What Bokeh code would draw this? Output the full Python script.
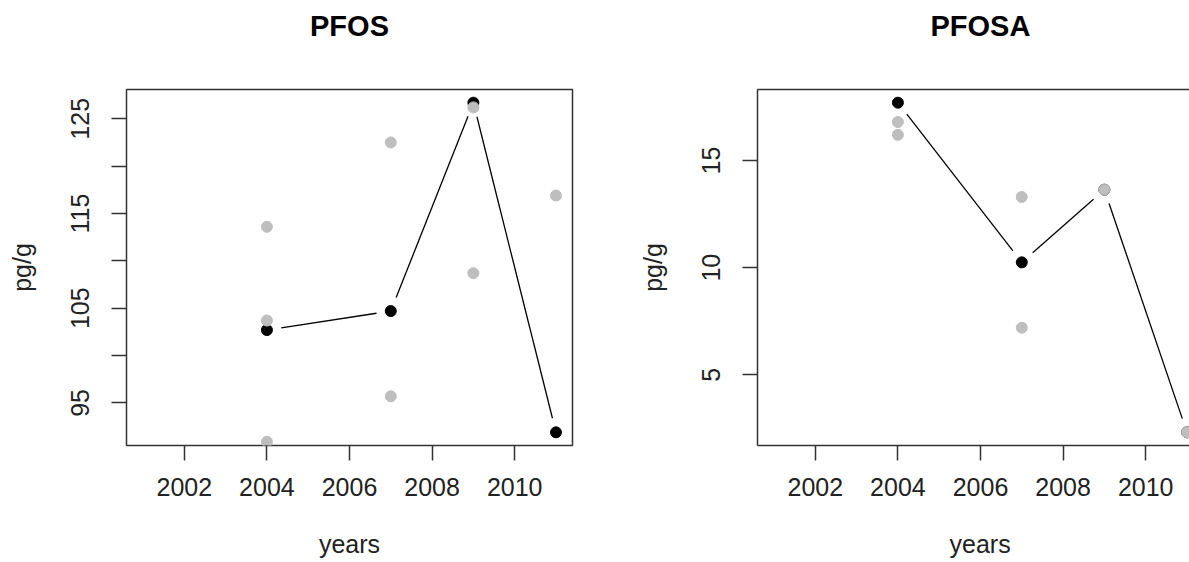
import math

from bokeh.embed import file_html
from bokeh.layouts import row
from bokeh.models import FixedTicker, LinearAxis, Range1d, Title
from bokeh.plotting import figure
from bokeh.resources import INLINE

# Sampling years and the year axis
years = [2004, 2007, 2009, 2011]
year_lim = [2001, 2011]
year_ticks = [2002, 2004, 2006, 2008, 2010]

# PFOS (pg/g): yearly means and individual samples
pfos_mean = [102.7, 104.7, 126.7, 91.9]
pfos_sample_year = [2004, 2004, 2004, 2007, 2007, 2009, 2009, 2011]
pfos_sample = [113.6, 103.7, 90.9, 122.5, 95.7, 126.2, 108.7, 116.9]
pfos_ticks = [95, 100, 105, 110, 115, 120, 125]
pfos_tick_labels = ["95", "", "105", "", "115", "", "125"]

# PFOSA (pg/g): yearly means and individual samples
pfosa_mean = [17.7, 10.25, 13.64, 2.32]
pfosa_sample_year = [2004, 2004, 2007, 2007, 2009, 2011]
pfosa_sample = [16.8, 16.2, 13.3, 7.2, 13.64, 2.32]
pfosa_ticks = [5, 10, 15]
pfosa_tick_labels = ["5", "10", "15"]

FONT = "Liberation Sans"
INK = "#333333"
TEXT = "#222222"
GREY = "#BEBEBE"
FRAME_W, FRAME_H = 446, 356
TOP, BOTTOM = 89, 117
GAP = 14.5  # px left open around each mean point on the connecting line


def padded(lo, hi, frac=0.04):
    d = (hi - lo) * frac
    return lo - d, hi + d


def gapped_segments(xs, ys, xpx, ypx, gap):
    """Connecting segments that stop short of each point (type 'b' style)."""
    x0, y0, x1, y1 = [], [], [], []
    for i in range(len(xs) - 1):
        dx, dy = xs[i + 1] - xs[i], ys[i + 1] - ys[i]
        length = math.hypot(dx * xpx, dy * ypx)
        if length <= 2 * gap:
            continue
        f = gap / length
        x0.append(xs[i] + dx * f)
        y0.append(ys[i] + dy * f)
        x1.append(xs[i + 1] - dx * f)
        y1.append(ys[i + 1] - dy * f)
    return x0, y0, x1, y1


def style_axis(ax):
    ax.major_tick_in = 0
    ax.major_tick_out = 15
    ax.major_tick_line_color = INK
    ax.major_tick_line_width = 1.5
    ax.minor_tick_line_color = None
    ax.major_label_text_font = FONT
    ax.major_label_text_font_size = "25px"
    ax.major_label_text_color = TEXT
    ax.axis_label_text_font = FONT
    ax.axis_label_text_font_size = "25px"
    ax.axis_label_text_font_style = "normal"
    ax.axis_label_text_color = TEXT


def spacer(extent, anchor, line_color=None):
    """Unlabelled axis with one invisible tick: sets the distance to the titles
    and, when given a colour, draws that edge of the box."""
    return LinearAxis(ticker=FixedTicker(ticks=[anchor]),
                      major_label_overrides={anchor: ""},
                      major_label_text_font_size="0px", major_label_standoff=0,
                      major_tick_out=extent, major_tick_in=0,
                      major_tick_line_color=INK, major_tick_line_alpha=0.0,
                      minor_tick_line_color=None, axis_line_color=line_color,
                      axis_line_width=1.5)


def panel(name, means, s_year, s_val, yticks, ylabels, border_left, border_right,
          visible_w, boxed, title_align, title_offset, xlab_offset):
    xlo, xhi = padded(*year_lim)
    ylo, yhi = padded(min(means), max(means))
    xpx = FRAME_W / (xhi - xlo)
    ypx = FRAME_H / (yhi - ylo)
    x_end = xlo + visible_w / xpx

    p = figure(
        frame_width=visible_w, frame_height=FRAME_H,
        x_range=Range1d(xlo, x_end), y_range=Range1d(ylo, yhi),
        min_border_left=border_left, min_border_right=border_right,
        min_border_top=TOP, min_border_bottom=BOTTOM,
        output_backend="svg", toolbar_location=None,
        y_axis_label="pg/g",
    )
    p.grid.visible = False
    p.background_fill_color = "white"
    p.border_fill_color = "white"

    p.xaxis.ticker = FixedTicker(ticks=year_ticks)
    p.yaxis.ticker = FixedTicker(ticks=yticks)
    p.yaxis.major_label_overrides = {t: lab for t, lab in zip(yticks, ylabels)}
    p.yaxis.major_label_orientation = "vertical"
    for ax in (p.xaxis[0], p.yaxis[0]):
        style_axis(ax)
    p.xaxis.major_label_standoff = 17
    p.yaxis.major_label_standoff = 22
    p.yaxis.axis_label_standoff = 33

    anchor = year_ticks[0]
    if boxed:
        p.outline_line_color = INK
        p.outline_line_width = 1.5
        p.outline_line_alpha = 1.0
        p.xaxis.axis_line_color = None
        p.yaxis.axis_line_color = None
        p.add_layout(spacer(43, anchor), "above")
    else:
        # open on the right: box drawn from the left, bottom and top axis lines
        p.outline_line_color = None
        for ax in (p.xaxis[0], p.yaxis[0]):
            ax.axis_line_color = INK
            ax.axis_line_width = 1.5
        p.add_layout(spacer(43, anchor, INK), "above")

    p.title.text = name
    p.title.align = title_align
    p.title.offset = title_offset
    p.title.vertical_align = "bottom"
    p.title.standoff = 10
    p.title.text_font = FONT
    p.title.text_font_size = "29px"
    p.title.text_font_style = "bold"
    p.title.text_color = "black"

    p.add_layout(spacer(31, anchor), "below")
    p.add_layout(Title(text="years", align=title_align, offset=xlab_offset,
                       vertical_align="top", standoff=0, text_font=FONT,
                       text_font_size="25px", text_font_style="normal",
                       text_color=TEXT), "below")

    # line between yearly means
    x0, y0, x1, y1 = gapped_segments(years, means, xpx, ypx, GAP)
    p.segment(x0, y0, x1, y1, line_color="black", line_width=1.3)
    # yearly means, then the individual samples on top
    p.scatter(years, means, size=11, marker="circle", fill_color="black", line_color="black")
    p.scatter(s_year, s_val, size=11, marker="circle", fill_color=GREY, line_color=GREY)
    return p


left = panel("PFOS", pfos_mean, pfos_sample_year, pfos_sample,
             pfos_ticks, pfos_tick_labels, 126, 23, FRAME_W, True, "center", 0, 0)
right = panel("PFOSA", pfosa_mean, pfosa_sample_year, pfosa_sample,
              pfosa_ticks, pfosa_tick_labels, 162, 0, 1189 - 757, False, "left", 173, 192)

layout = row(left, right, spacing=0)
open("out.html", "w").write(file_html(layout, INLINE))
